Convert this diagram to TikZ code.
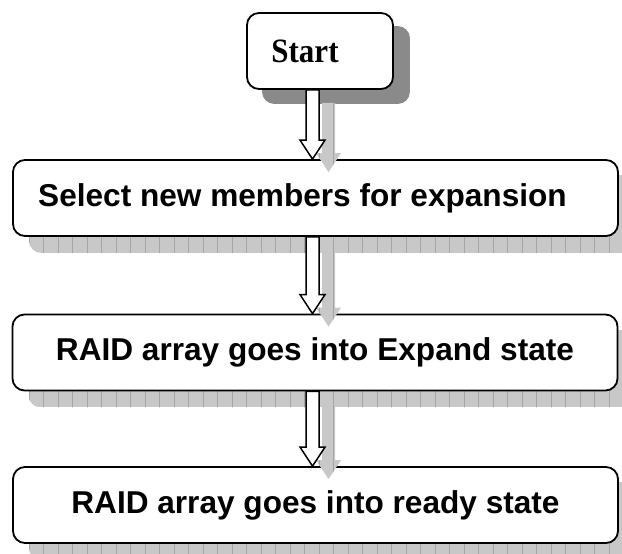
\documentclass[tikz,border=0pt]{standalone}
\usepackage{fontspec}
\setmainfont{Liberation Sans}
\newfontfamily\serifbold{Liberation Serif}
\usetikzlibrary{calc,backgrounds}
\definecolor{shfill}{HTML}{C8C8C8}
\definecolor{shgrid}{HTML}{A4A4A4}
\definecolor{shdark}{HTML}{8A8A8A}
\newcommand\gridshadow[2]{%
  \begin{scope}
    \clip[rounded corners=12pt] (#1) rectangle (#2);
    \fill[shfill] (#1) rectangle (#2);
    \draw[shgrid, line width=0.5pt, step=14.5] (0,0) grid (640,580);
  \end{scope}}
\newcommand\shadowarrow[2]{%
  \begin{scope}
    \clip let \p1=($(ax |- #1.south)+(16,13)$), \p2=($(ax |- #2.north)+(16,13)$) in
      (\x1-6.5pt,\y1) -- (\x1-6.5pt,\y2+19pt) -- (\x1-12.5pt,\y2+19pt) -- (\x1,\y2)
      -- (\x1+12.5pt,\y2+19pt) -- (\x1+6.5pt,\y2+19pt) -- (\x1+6.5pt,\y1) -- cycle;
    \fill[shfill] (0,0) rectangle (640,580);
    \draw[shgrid, line width=0.5pt, step=14.5] (0,0) grid (640,580);
  \end{scope}}
\newcommand\whitearrow[2]{%
  \draw[blockarrow] let \p1=(ax |- #1.south), \p2=(ax |- #2.north) in
      (\x1-6.5pt,\y1) -- (\x1-6.5pt,\y2+19pt) -- (\x1-12.5pt,\y2+19pt) -- (\x1,\y2)
      -- (\x1+12.5pt,\y2+19pt) -- (\x1+6.5pt,\y2+19pt) -- (\x1+6.5pt,\y1) -- cycle;}
\begin{document}
\begin{tikzpicture}[x=1pt,y=-1pt,
  box/.style={draw=black, line width=1.8pt, rounded corners=12pt, fill=white,
    inner sep=0pt, minimum width=605pt, minimum height=76pt,
    font=\fontsize{31.6}{38}\selectfont\bfseries},
  startbox/.style={box, minimum width=146pt, minimum height=76pt,
    font=\serifbold\fontsize{31}{36}\selectfont\bfseries},
  blockarrow/.style={draw=black, line width=1.5pt, fill=white, line join=miter}]
\useasboundingbox (0,0) rectangle (622,554);
\coordinate (ax) at (312.5,0);
\node[startbox] (start) at (320,51) {\scalebox{1}[1.1]{Start}\hspace*{30pt}};
\node[box] (b1) at (315.5,198) {Select new members for expansion\hspace*{26pt}};
\node[box] (b2) at (315,352.5) {RAID array goes into Expand state};
\node[box] (b3) at (315.5,505) {RAID array goes into ready state};
\begin{scope}[on background layer]
  \clip (0,0) rectangle (622,554);
  \gridshadow{$(b1.south west)+(17,16)$}{$(b1.north east)+(17,16)$}
  \gridshadow{$(b2.south west)+(17,16)$}{$(b2.north east)+(17,16)$}
  \gridshadow{$(b3.south west)+(17,16)$}{$(b3.north east)+(17,16)$}
  \fill[shdark, rounded corners=12pt] ($(start.south west)+(16,14)$) rectangle ($(start.north east)+(16,14)$);
\end{scope}
\shadowarrow{start}{b1}
\shadowarrow{b1}{b2}
\shadowarrow{b2}{b3}
\whitearrow{start}{b1}
\whitearrow{b1}{b2}
\whitearrow{b2}{b3}
\end{tikzpicture}
\end{document}
